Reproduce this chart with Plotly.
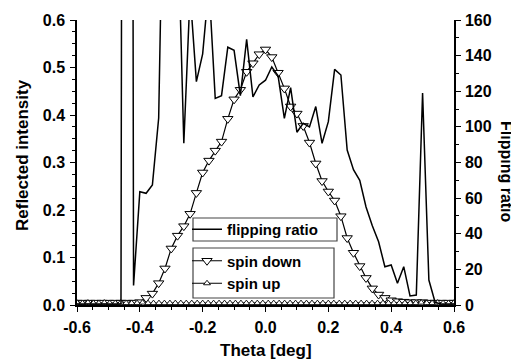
import numpy as np
import plotly.graph_objects as go

# ---------------- data ----------------
theta = [round(-0.60 + 0.02 * i, 2) for i in range(61)]

spin_down = [
    0.005, 0.005, 0.005, 0.005, 0.005, 0.005, 0.005, 0.005, 0.005, 0.005,
    0.006, 0.015, 0.024, 0.046, 0.077, 0.119, 0.146, 0.166, 0.192, 0.236,
    0.279, 0.304, 0.325, 0.344, 0.392, 0.433, 0.453, 0.491, 0.509, 0.528,
    0.538,
    0.522, 0.489, 0.456, 0.418, 0.403, 0.377, 0.342, 0.298, 0.261, 0.239,
    0.220, 0.187, 0.141, 0.110, 0.082, 0.057, 0.035, 0.022, 0.015, 0.010,
    0.008, 0.007, 0.006, 0.006, 0.006, 0.005, 0.005, 0.005, 0.005, 0.005,
]

flipping_ratio = [
    0.5, 0.5, 0.5, 0.5, 0.5, 0.5, 0.5, 0.5, 2000, 11,
    63.6, 62.7, 67.4, 105, 300, 260, 222, 90.8, 175, 125.4,
    141, 180, 116, 117.5, 144.7, 143, 117.5, 149.2, 116.8, 123.5,
    126.2,
    133.6, 128.7, 104.8, 122, 97, 102, 100, 111.4, 90.8, 102.9,
    132.3, 129.1, 87, 76, 70, 55, 44.5, 35.5, 21.5, 22.5,
    12.2, 21.5, 5.1, 5.6, 119, 14, 1.5, 0.5, 0.5, 0.5,
]

theta_up = list(np.linspace(-0.6, 0.6, 70))
spin_up = [
    0.005, 0.004, 0.005, 0.004, 0.004, 0.005, 0.004, 0.004, 0.005, 0.004,
    0.004, 0.004, 0.005, 0.004, 0.004, 0.004, 0.004, 0.004, 0.004, 0.004,
    0.004, 0.004, 0.004, 0.004, 0.004, 0.004, 0.004, 0.004, 0.004, 0.004,
    0.004, 0.004, 0.004, 0.004, 0.004, 0.004, 0.004, 0.004, 0.004, 0.004,
    0.004, 0.004, 0.004, 0.004, 0.004, 0.004, 0.004, 0.004, 0.004, 0.004,
    0.004, 0.004, 0.004, 0.004, 0.004, 0.004, 0.004, 0.004, 0.004, 0.004,
    0.004, 0.004, 0.004, 0.005, 0.004, 0.004, 0.005, 0.004, 0.004, 0.005,
]

x_ticks = [-0.6, -0.4, -0.2, 0.0, 0.2, 0.4, 0.6]
x_ticklabels = ["-0.6", "-0.4", "-0.2", "0.0", "0.2", "0.4", "0.6"]
y_ticks = [0.0, 0.1, 0.2, 0.3, 0.4, 0.5, 0.6]
y_ticklabels = ["0.0", "0.1", "0.2", "0.3", "0.4", "0.5", "0.6"]
y2_ticks = [0, 20, 40, 60, 80, 100, 120, 140, 160]
y2_ticklabels = ["0", "20", "40", "60", "80", "100", "120", "140", "160"]

# ---------------- layout geometry ----------------
OFF = 8                      # page body margin of the html page
W, H = 519 - OFF, 360 - OFF  # figure size
# plot area in page pixels
PX0, PX1, PY0, PY1 = 77, 454, 20, 305
L = PX0 - OFF
R = W - (PX1 - OFF)
T = PY0 - OFF
B = H - (PY1 - OFF)
pw, ph = PX1 - PX0, PY1 - PY0


def px2x(px):
    return (px - PX0) / pw


def px2y(py):
    return (PY1 - py) / ph


def b(s):
    return "<b>" + s + "</b>"


FONT = "Liberation Sans, Arial, Helvetica, sans-serif"
tickfont = dict(family=FONT, size=16, color="black")

fig = go.Figure()

fig.add_trace(go.Scatter(
    x=theta, y=spin_down, name=b("spin down"), mode="lines+markers",
    line=dict(color="black", width=1.2),
    marker=dict(symbol="triangle-down", size=9, color="white",
                line=dict(color="black", width=1)),
    legend="legend2",
))
fig.add_trace(go.Scatter(
    x=theta_up, y=spin_up, name=b("spin up"), mode="lines+markers",
    line=dict(color="black", width=1),
    marker=dict(symbol="triangle-up", size=6, color="white",
                line=dict(color="black", width=0.9)),
    legend="legend2",
))
fig.add_trace(go.Scatter(
    x=theta, y=flipping_ratio, name=b("flipping ratio"), mode="lines",
    line=dict(color="black", width=1.5),
    yaxis="y2", legend="legend",
))

fig.update_layout(
    width=W, height=H,
    margin=dict(l=L, r=R, t=T, b=B, pad=0, autoexpand=False),
    paper_bgcolor="white", plot_bgcolor="white",
    font=dict(family=FONT, size=16, color="black"),
    xaxis=dict(
        range=[-0.6, 0.6], tickvals=x_ticks,
        ticktext=[b(s) for s in x_ticklabels],
        ticks="outside", ticklen=5, tickwidth=1.2, tickcolor="black",
        showline=True, linecolor="black", linewidth=1.5,
        showgrid=False, zeroline=False, tickfont=tickfont,
        ticklabelstandoff=2,
        minor=dict(dtick=0.05, tick0=0, ticks="outside", ticklen=3,
                   tickcolor="black", tickwidth=1),
    ),
    xaxis2=dict(
        range=[-0.6, 0.6], overlaying="x", side="top", anchor="y",
        dtick=0.05, tick0=0, ticks="inside", ticklen=4, tickcolor="#555",
        showticklabels=False, showline=True, linecolor="#888", linewidth=1.5,
        showgrid=False, zeroline=False,
    ),
    yaxis=dict(
        range=[0, 0.6], tickvals=y_ticks,
        ticktext=[b(s) for s in y_ticklabels],
        ticks="outside", ticklen=5, tickwidth=1.2, tickcolor="black",
        showline=True, linecolor="black", linewidth=1.5,
        showgrid=False, zeroline=False, tickfont=tickfont,
        ticklabelstandoff=2,
        minor=dict(dtick=0.025, tick0=0, ticks="outside", ticklen=3,
                   tickcolor="black", tickwidth=1),
    ),
    yaxis2=dict(
        range=[0, 160], tickvals=y2_ticks,
        ticktext=[b(s) for s in y2_ticklabels],
        overlaying="y", side="right", anchor="x",
        ticks="outside", ticklen=5, tickwidth=1.2, tickcolor="black",
        showline=True, linecolor="black", linewidth=1.5,
        showgrid=False, zeroline=False, tickfont=tickfont,
        ticklabelstandoff=1,
        minor=dict(dtick=10, tick0=0, ticks="outside", ticklen=3,
                   tickcolor="black", tickwidth=1),
    ),
    legend=dict(
        x=px2x(187), y=px2y(229.5), xanchor="left", yanchor="middle",
        bgcolor="rgba(0,0,0,0)", borderwidth=0,
        font=dict(family=FONT, size=15, color="black"),
        itemwidth=30,
    ),
    legend2=dict(
        x=px2x(187), y=px2y(272), xanchor="left", yanchor="middle",
        bgcolor="rgba(0,0,0,0)", borderwidth=0, tracegroupgap=0,
        font=dict(family=FONT, size=15, color="black"),
        itemwidth=30, traceorder="normal",
    ),
    shapes=[
        dict(type="rect", xref="paper", yref="paper",
             x0=px2x(193), x1=px2x(337), y0=px2y(241), y1=px2y(218),
             fillcolor="white", line=dict(color="#444", width=1.2),
             layer="above"),
        dict(type="rect", xref="paper", yref="paper",
             x0=px2x(193), x1=px2x(334), y0=px2y(298), y1=px2y(248),
             fillcolor="white", line=dict(color="#444", width=1.2),
             layer="above"),
    ],
    annotations=[
        dict(text=b("Reflected intensity"), xref="paper", yref="paper",
             x=px2x(22), y=px2y(155), textangle=-90, showarrow=False,
             xanchor="center", yanchor="middle",
             font=dict(family=FONT, size=17, color="black")),
        dict(text=b("Flipping ratio"), xref="paper", yref="paper",
             x=px2x(507), y=px2y(172), textangle=90, showarrow=False,
             xanchor="center", yanchor="middle",
             font=dict(family=FONT, size=16, color="black")),
        dict(text=b("Theta [deg]"), xref="paper", yref="paper",
             x=px2x(266), y=px2y(350), showarrow=False,
             xanchor="center", yanchor="middle",
             font=dict(family=FONT, size=17, color="black")),
    ],
    showlegend=True,
)

fig.write_html("out.html")
